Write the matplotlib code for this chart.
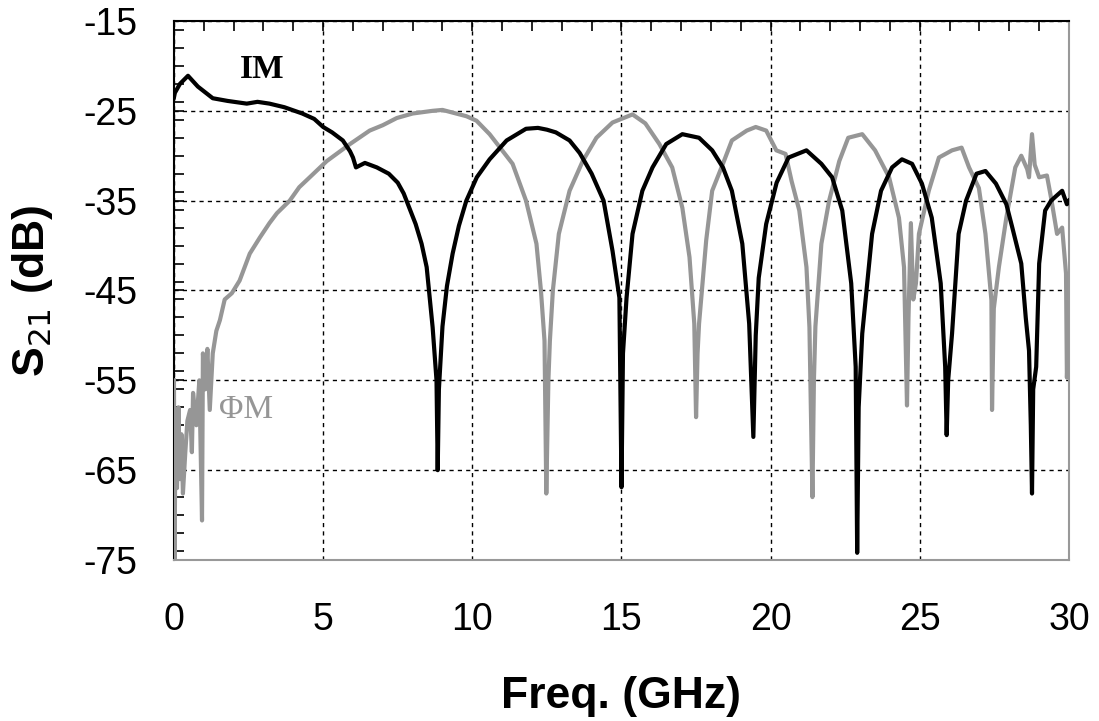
import numpy as np
import matplotlib
matplotlib.use("Agg")
import matplotlib.pyplot as plt
from matplotlib.ticker import MultipleLocator

plt.rcParams['font.family'] = ['Liberation Sans', 'DejaVu Sans']
plt.rcParams['axes.unicode_minus'] = False

# IM response (black)
im_f = [0.0, 0.03, 0.2, 0.47, 0.8, 1.3, 1.8, 2.44, 2.8, 3.2, 3.7, 4.3, 4.7, 5.0, 5.3,
        5.66, 5.9, 6.0, 6.1, 6.4, 6.8, 7.2, 7.5, 7.7, 8.1, 8.3, 8.47, 8.67, 8.8, 8.84,
        8.88, 9.0, 9.15, 9.34, 9.55, 9.8, 10.15, 10.58, 11.15, 11.8, 12.2, 12.5, 12.8,
        13.26, 13.6, 14.0, 14.4, 14.7, 14.93, 15.0, 15.05, 15.17, 15.37, 15.7, 16.04,
        16.5, 17.04, 17.6, 18.04, 18.4, 18.7, 19.05, 19.28, 19.42, 19.5, 19.6, 19.85,
        20.2, 20.6, 21.2, 21.7, 22.06, 22.4, 22.7, 22.85, 22.9, 22.95, 23.07, 23.4,
        23.7, 24.07, 24.4, 24.74, 25.07, 25.4, 25.7, 25.85, 25.9, 25.95, 26.08, 26.3,
        26.55, 26.9, 27.2, 27.55, 27.9, 28.1, 28.4, 28.55, 28.66, 28.72, 28.76, 28.8,
        28.9, 29.0, 29.2, 29.4, 29.6, 29.77, 29.93, 30.0]
im_db = [-23.5, -23.0, -22.0, -21.1, -22.3, -23.6, -23.9, -24.2, -24.0, -24.2, -24.6,
         -25.3, -25.9, -26.8, -27.4, -28.3, -29.5, -30.2, -31.3, -30.8, -31.3, -32.0,
         -33.0, -34.2, -37.6, -39.8, -42.4, -49.1, -55.0, -65.0, -56.0, -49.0, -44.5,
         -40.9, -37.8, -35.0, -32.4, -30.4, -28.3, -27.0, -26.9, -27.1, -27.4, -28.3,
         -29.7, -32.0, -35.0, -40.6, -45.8, -66.9, -52.0, -45.8, -38.7, -33.9, -31.3,
         -28.7, -27.6, -28.0, -29.4, -31.3, -33.9, -39.8, -48.7, -61.3, -50.0, -43.6,
         -37.6, -33.0, -30.2, -29.4, -30.9, -32.4, -36.1, -44.2, -53.5, -74.2, -58.0,
         -49.8, -38.7, -33.9, -31.3, -30.4, -30.9, -33.1, -36.9, -44.2, -53.5, -61.1,
         -55.0, -49.8, -38.7, -35.0, -32.0, -31.7, -33.1, -35.4, -38.0, -42.0, -48.0,
         -51.7, -60.0, -67.6, -56.0, -53.5, -42.0, -36.1, -35.0, -34.4, -33.9, -35.4,
         -35.0]

# PhiM response (gray)
pm_f = [0.0, 0.02, 0.05, 0.1, 0.15, 0.2, 0.25, 0.3, 0.38, 0.45, 0.54, 0.6, 0.64, 0.75,
        0.85, 0.94, 0.97, 1.05, 1.12, 1.2, 1.3, 1.42, 1.54, 1.7, 1.94, 2.2, 2.54, 2.88,
        3.2, 3.45, 3.88, 4.2, 4.55, 5.12, 5.9, 6.56, 7.0, 7.47, 8.0, 8.67, 9.0, 9.34,
        9.8, 10.14, 10.58, 11.0, 11.35, 11.8, 12.15, 12.3, 12.42, 12.48, 12.55, 12.6,
        12.7, 12.9, 13.26, 13.7, 14.16, 14.7, 15.37, 15.8, 16.27, 16.7, 17.04, 17.28,
        17.44, 17.5, 17.55, 17.6, 17.84, 18.04, 18.4, 18.7, 19.2, 19.5, 19.85, 20.19,
        20.5, 20.7, 20.96, 21.2, 21.3, 21.4, 21.45, 21.5, 21.7, 21.96, 22.3, 22.6,
        23.07, 23.5, 23.97, 24.3, 24.47, 24.57, 24.62, 24.7, 24.78, 24.87, 24.97, 25.3,
        25.64, 26.08, 26.4, 26.65, 26.98, 27.2, 27.4, 27.42, 27.48, 27.65, 27.9, 28.2,
        28.4, 28.6, 28.66, 28.76, 28.85, 29.0, 29.26, 29.4, 29.6, 29.77, 29.9, 29.93,
        30.0]
pm_db = [-55.0, -75.0, -60.0, -67.0, -58.0, -66.0, -61.0, -67.6, -63.0, -59.5, -58.3,
         -63.0, -56.4, -60.0, -55.0, -70.6, -52.0, -56.0, -51.5, -58.3, -52.0, -49.5,
         -48.3, -46.0, -45.3, -43.9, -40.9, -39.1, -37.5, -36.4, -35.0, -33.5, -32.4,
         -30.6, -28.7, -27.2, -26.6, -25.8, -25.3, -25.0, -24.9, -25.2, -25.6, -26.1,
         -27.6, -29.4, -30.9, -35.0, -39.8, -45.0, -50.6, -67.6, -55.0, -50.6, -45.0,
         -38.7, -33.9, -30.6, -28.0, -26.3, -25.4, -26.4, -28.7, -31.3, -35.8, -41.3,
         -48.7, -59.1, -52.0, -48.7, -39.4, -33.9, -30.9, -28.3, -27.2, -26.8, -27.2,
         -29.4, -29.8, -32.8, -36.1, -42.4, -49.1, -68.0, -55.0, -49.0, -39.8, -35.0,
         -30.6, -28.0, -27.6, -29.4, -32.4, -36.9, -42.4, -57.8, -48.0, -37.5, -46.0,
         -44.2, -38.7, -33.9, -30.2, -29.4, -29.1, -31.3, -33.6, -38.7, -46.1, -58.3,
         -47.0, -42.4, -36.9, -31.3, -30.0, -31.5, -32.4, -27.6, -31.0, -32.4, -32.2,
         -34.7, -38.7, -38.0, -43.1, -54.7, -48.0]

fig = plt.figure(figsize=(10.99, 7.21), dpi=100)
ax = fig.add_axes([0.1583, 0.2233, 0.8144, 0.7476])

ax.plot(pm_f, pm_db, color='#969696', lw=3.0, zorder=3)
ax.plot(im_f, im_db, color='black', lw=3.0, zorder=4)

ax.set_xlim(0, 30)
ax.set_ylim(-75, -15)
ax.xaxis.set_major_locator(MultipleLocator(5))
ax.xaxis.set_minor_locator(MultipleLocator(1))
ax.yaxis.set_minor_locator(MultipleLocator(2))
ax.set_yticks(np.arange(-75, -14, 10))

ax.grid(True, which='major', color='black', linestyle=(0, (3, 3)), lw=1.0)

ax.tick_params(which='both', direction='in', top=True, bottom=False,
               left=True, right=False, labeltop=False, labelbottom=True)
ax.tick_params(which='major', length=7, width=1.2, labelsize=27)
ax.tick_params(which='minor', length=7, width=1.2)
ax.tick_params(axis='x', which='major', pad=30)
ax.tick_params(axis='y', which='major', pad=26)

for s in ['left', 'top']:
    ax.spines[s].set_color('black')
    ax.spines[s].set_linewidth(1.5)
for s in ['right', 'bottom']:
    ax.spines[s].set_color('#999999')
    ax.spines[s].set_linewidth(1.5)

ax.set_xlabel('Freq. (GHz)', fontsize=32, fontweight='bold')
ax.xaxis.set_label_coords(0.5, -0.215)
ax.set_ylabel('S$_{21}$ (dB)', fontsize=32, fontweight='bold')
ax.yaxis.set_label_coords(-0.133, 0.5)

ax.text(2.95, -20.4, 'IM', fontsize=24, color='black', fontweight='bold',
        family=['Liberation Serif', 'DejaVu Serif'], ha='center', va='center')
ax.text(2.4, -58.3, 'ΦM', fontsize=24, color='#969696',
        family=['Liberation Serif', 'DejaVu Serif'], ha='center', va='center')

fig.savefig('out.png', dpi=100)
